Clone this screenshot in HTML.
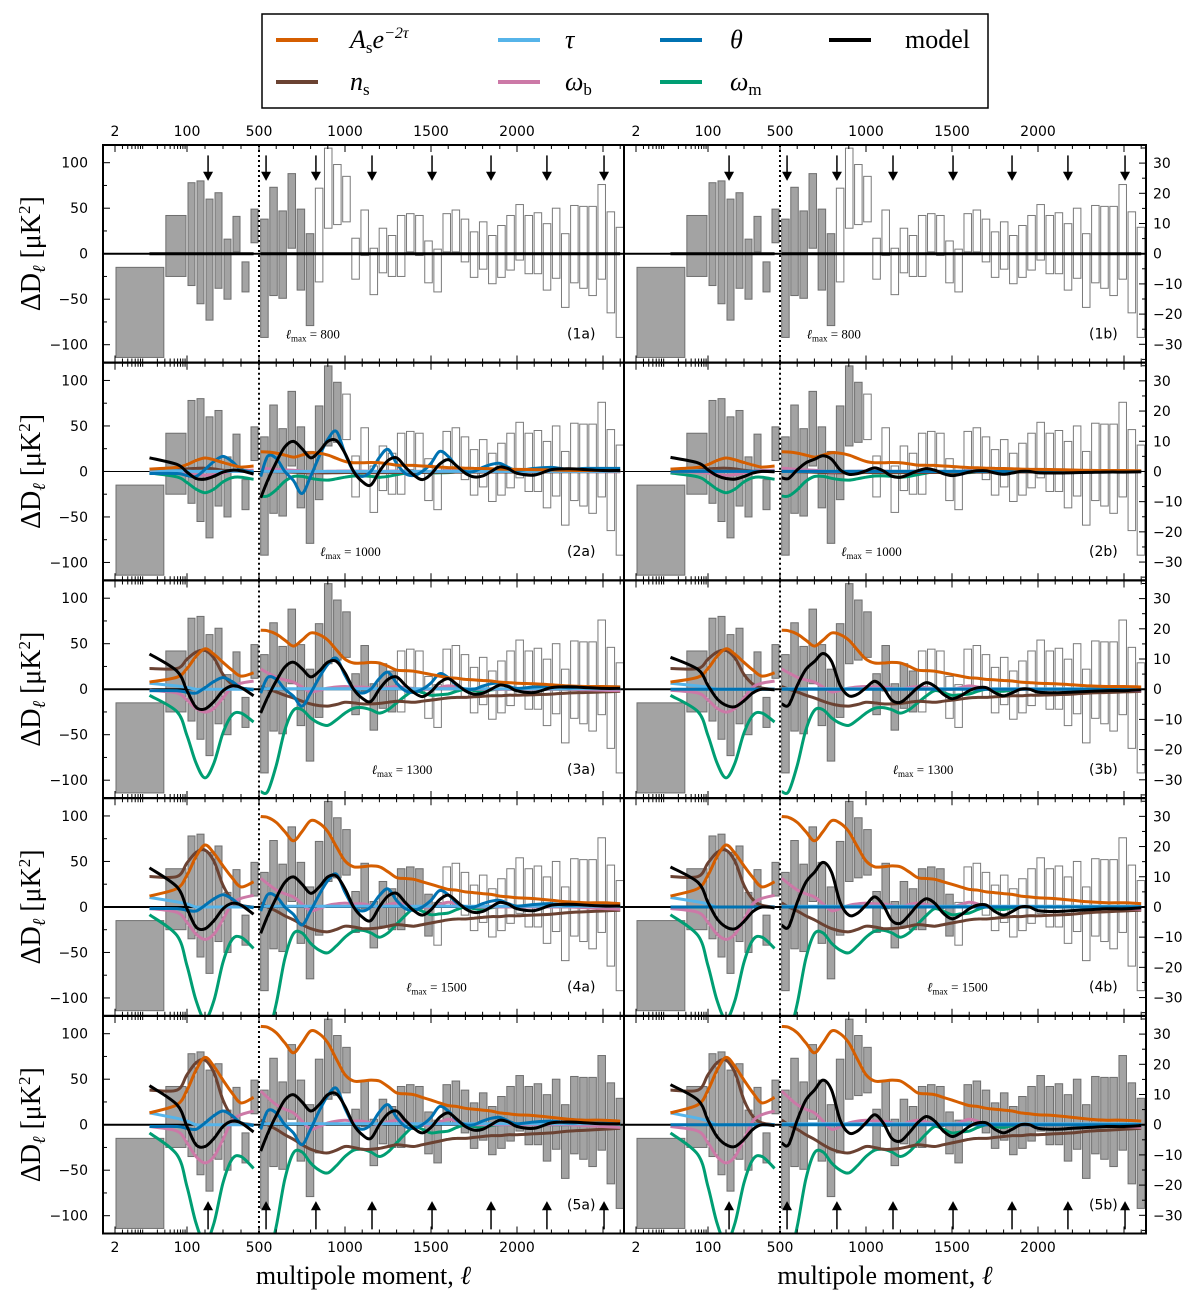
<!DOCTYPE html>
<html><head><meta charset="utf-8">
<style>
html,body{margin:0;padding:0;background:#fff;}
svg{display:block;}
.tk{font-family:"DejaVu Sans","Liberation Sans",sans-serif;font-size:14px;fill:#000;}
.ser{font-family:"Liberation Serif","DejaVu Serif",serif;fill:#000;}
</style></head>
<body>
<svg id="fig" width="1200" height="1303" viewBox="0 0 1200 1303" xmlns="http://www.w3.org/2000/svg">
  <g>
    <rect x="262" y="14" width="726" height="94" fill="#fff" stroke="#000" stroke-width="1.5"/>
    <g><line x1="276" y1="40" x2="318" y2="40" stroke="#d55e00" stroke-width="4"/><text x="350" y="48" class="ser" font-size="26" font-style="italic">A<tspan font-style="normal" font-size="17" dy="5">s</tspan><tspan dy="-5">e</tspan><tspan font-size="16" dy="-10">−2τ</tspan></text></g>
    <g><line x1="498" y1="40" x2="540" y2="40" stroke="#56b4e9" stroke-width="4"/><text x="565" y="48" class="ser" font-size="26" font-style="italic">τ</text></g>
    <g><line x1="660" y1="40" x2="702" y2="40" stroke="#0072b2" stroke-width="4"/><text x="730" y="48" class="ser" font-size="26" font-style="italic">θ</text></g>
    <g><line x1="829" y1="40" x2="871" y2="40" stroke="#000" stroke-width="4"/><text x="905" y="48" class="ser" font-size="26">model</text></g>
    <g><line x1="276" y1="82" x2="318" y2="82" stroke="#6b4232" stroke-width="4"/><text x="350" y="90" class="ser" font-size="26" font-style="italic">n<tspan font-style="normal" font-size="17" dy="5">s</tspan></text></g>
    <g><line x1="498" y1="82" x2="540" y2="82" stroke="#cc79a7" stroke-width="4"/><text x="565" y="90" class="ser" font-size="26" font-style="italic">ω<tspan font-style="normal" font-size="17" dy="5">b</tspan></text></g>
    <g><line x1="660" y1="82" x2="702" y2="82" stroke="#009e73" stroke-width="4"/><text x="730" y="90" class="ser" font-size="26" font-style="italic">ω<tspan font-style="normal" font-size="17" dy="5">m</tspan></text></g>
  </g>
</svg>
<script>
// ---- data ----
const lowBinLo = [2,30,100,150,200,250,300,350,400,450];
const lowBinHi = [30,100,150,200,250,300,350,400,450,500];
const lowBarTop = [-15,42,78,80,60,67,16,41,-9,49];
const lowBarBot = [-114,-25,-35,-55,-73,-38,-50,2,-42,12];
const highBinLo = [505,558,611,664,717,770,823,876,929,982,1035,1088,1141,1194,1247,1300,1353,1406,1459,1512,1565,1618,1671,1724,1777,1830,1883,1936,1989,2042,2095,2148,2201,2254,2307,2360,2413,2466,2519,2572];
const highBarTop = [38,73,47,88,49,22,72,116,98,85,17,48,6,28,20,42,44,42,14,5,44,48,38,24,35,20,31,42,54,42,45,33,50,22,53,52,52,76,46,29];
const highBarBot = [-92,-46,-49,6,-40,-79,-31,28,32,35,-28,-2,-45,-21,-25,-25,2,-2,-32,-42,2,2,-9,-26,-17,-33,-26,-18,-7,-22,-22,-40,-27,-59,-32,-38,-46,-28,-65,-92];
const lmaxByRow = [800,1000,1300,1500,99999];
const lmaxLabels = ["800","1000","1300","1500",""];
const arrowEll = [217,541,831,1157,1506,1849,2174,2506];

const lowKnots = [13,58,100,150,200,250,300,350,400,470];
const highKnots = [510,550,600,650,700,750,800,850,900,950,1000,1050,1100,1150,1200,1250,1300,1350,1400,1450,1500,1550,1600,1650,1700,1750,1800,1850,1900,1950,2000,2100,2200,2300,2400,2500,2600];

const asLow = [13,22,38,60,74,64,49,35,24,30];
const nsLow = [38,38,55,68,71,57,27,9,2,0];
const tauLow = [13,7,4,0,0,0,0,0,0,0];
const thetaLow = [-2,-2,-4,-5,2,10,15,10,2,-1];
const wbLow = [-2,-7,-20,-35,-42,-35,-16,4,11,15];
const wmLow = [-9,-33,-68,-108,-130,-108,-64,-38,-35,-48];
const modelLowA = [43,22,-2,-22,-24,-15,-2,4,2,-8];
const modelLowB = [44,27,5,-13,-22,-24,-16,-5,0,-1];

const asHigh = [108,107,101,90,79,90,103,100,90,72,55,48,48,49,48,42,35,34,33,30,27,24,21,20,18,17,16,15,13,12,11,10,8,6,5,5,4];
const nsHigh = [5,0,-5,-11,-16,-22,-27,-30,-31,-28,-24,-25,-27,-27,-26,-24,-22,-23,-24,-22,-20,-18,-16,-15,-15,-14,-13,-12,-12,-11,-11,-10,-9,-7,-6,-5,-4];
const tauHigh = [1,1,1,1,1,1,1,1,1,1,1,1,1,1,1,1,1,1,1,1,1,1,1,1,1,1,1,1,1,1,1,1,1,1,1,1,1];
const thetaHigh = [-5,15,13,0,-9,-22,-5,15,32,40,18,0,-5,0,14,22,8,-2,-4,0,8,20,15,5,0,0,4,7,8,4,1,3,4,2,3,3,3];
const wbHigh = [37,30,22,17,13,4,-5,-2,2,4,5,4,4,2,0,3,5,3,1,0,0,3,6,4,0,0,0,0,0,0,0,0,0,0,-1,-2,-3];
const wmHigh = [-150,-150,-112,-60,-31,-30,-42,-50,-53,-45,-35,-28,-27,-30,-35,-30,-20,-10,-2,-5,-9,-8,-7,-3,0,-2,-3,-1,0,0,0,0,0,0,0,0,0];
const modelHighA = [-29,-10,10,27,33,25,15,22,33,34,20,0,-11,-15,0,12,15,5,-4,-9,-3,8,13,6,-2,-6,-5,0,5,3,-2,-4,2,3,2,1,1];
const modelHighB = [-20,-22,5,27,38,49,38,5,-9,-7,2,11,2,-15,-18,-9,2,9,4,-7,-13,-9,-2,2,2,-5,-9,-5,0,0,-4,-5,-4,-3,-2,-2,-1];

// row scales for rows 2..5
const scaleAs = [0.2,0.6,0.92,1];
const scaleNs = [0.05,0.6,0.88,1];
const scaleTau = [0.1,0.5,0.8,1];
const scaleThetaA = [1.1,0.85,0.9,1];
const scaleThetaB = [0,0,0,0];
const scaleWb = [0.1,0.6,0.85,1];
const scaleWm = [0.18,0.75,0.95,1];
const scaleModelA = [1.0,0.9,1,1];
const scaleModelB = [0.35,0.8,1,1];
const scaleModelLowA = [0.35,0.9,1,1];

// ---- geometry ----
const NS = "http://www.w3.org/2000/svg";
const svg = document.getElementById('fig');
const rowTop0 = 145, rowStep = 217.75, rowH = 217.5;
const colX0 = [103,624], colW = [521,522], colOff = [0,521];
const zeroOff = 108.7, pxPerUnit = 0.91;
function xl(l){
  if(l<=100) return 115 + 72*Math.log(l/2)/Math.log(50);
  if(l<=500) return 187 + (l-100)*0.18;
  return 259 + (l-500)*0.172;
}
function X(col,l){ return xl(l)+colOff[col]; }
function Y(row,v){ return rowTop0+rowStep*row+zeroOff - v*pxPerUnit; }
function mk(tag, attrs, parent){
  const e=document.createElementNS(NS,tag);
  for(const k in attrs) e.setAttribute(k,attrs[k]);
  (parent||svg).appendChild(e); return e;
}
function crPath(xs, ys){
  let d = `M${xs[0].toFixed(1)},${ys[0].toFixed(1)}`;
  for(let i=0;i<xs.length-1;i++){
    const x0=xs[Math.max(i-1,0)], y0=ys[Math.max(i-1,0)];
    const x1=xs[i], y1=ys[i], x2=xs[i+1], y2=ys[i+1];
    const x3=xs[Math.min(i+2,xs.length-1)], y3=ys[Math.min(i+2,xs.length-1)];
    const c1x=x1+(x2-x0)/6, c1y=y1+(y2-y0)/6, c2x=x2-(x3-x1)/6, c2y=y2-(y3-y1)/6;
    d += ` C${c1x.toFixed(1)},${c1y.toFixed(1)} ${c2x.toFixed(1)},${c2y.toFixed(1)} ${x2.toFixed(1)},${y2.toFixed(1)}`;
  }
  return d;
}
const defs = mk('defs',{});
const COLORS = {as:'#d55e00', ns:'#6b4232', tau:'#56b4e9', theta:'#0072b2', wb:'#cc79a7', wm:'#009e73', model:'#000'};

for(let row=0; row<5; row++){
  for(let col=0; col<2; col++){
    const px=colX0[col], py=rowTop0+rowStep*row;
    const cid=`clip-${row}-${col}`;
    const cp=mk('clipPath',{id:cid},defs);
    mk('rect',{x:px,y:py,width:colW[col],height:rowH},cp);
    const g=mk('g',{'clip-path':`url(#${cid})`});
    
    
    const lmax=lmaxByRow[row];
    for(let i=0;i<lowBinLo.length;i++){
      const x1=X(col,lowBinLo[i])+1, x2=X(col,lowBinHi[i])-1;
      const r=mk('rect',{x:x1,y:Y(row,lowBarTop[i]),width:Math.max(1,x2-x1),height:Y(row,lowBarBot[i])-Y(row,lowBarTop[i]),fill:'#a3a3a3',stroke:'#6e6e6e','stroke-width':1},g);
      
      
    }
    for(let i=0;i<highBinLo.length;i++){
      const x1=X(col,highBinLo[i])+0.8, x2=X(col,highBinLo[i]+53)-0.8;
      const filled = (highBinLo[i]+26) < lmax;
      const r=mk('rect',{x:x1,y:Y(row,highBarTop[i]),width:x2-x1,height:Y(row,highBarBot[i])-Y(row,highBarTop[i]),fill:filled?'#a3a3a3':'#fff',stroke:filled?'#6e6e6e':'#7a7a7a','stroke-width':1},g);
      
      
    }
    mk('line',{x1:px,x2:px+colW[col],y1:Y(row,0),y2:Y(row,0),stroke:'#000','stroke-width':row==1?1:2},g);
    mk('line',{x1:X(col,500),x2:X(col,500),y1:py,y2:py+rowH,stroke:'#000','stroke-width':2,'stroke-dasharray':'2,3'},g);
    if(row===0){
      const p1=mk('path',{d:`M${X(col,13)},${Y(row,0)} L${X(col,470)},${Y(row,0)} M${X(col,510)},${Y(row,0)} L${X(col,2600)},${Y(row,0)}`,stroke:'#000','stroke-width':3,fill:'none'},g);
      
      
    } else {
      const k=row-1;
      const series=[
        ['wm',wmLow,wmHigh,scaleWm[k],scaleWm[k]],
        ['ns',nsLow,nsHigh,scaleNs[k],scaleNs[k]],
        ['wb',wbLow,wbHigh,scaleWb[k],scaleWb[k]],
        ['tau',tauLow,tauHigh,scaleTau[k],scaleTau[k]],
        ['theta',thetaLow,thetaHigh,(col?scaleThetaB:scaleThetaA)[k],(col?scaleThetaB:scaleThetaA)[k]],
        ['as',asLow,asHigh,scaleAs[k],scaleAs[k]],
        ['model',col?modelLowB:modelLowA,col?modelHighB:modelHighA,(col?scaleModelB:scaleModelLowA)[k],(col?scaleModelB:scaleModelA)[k]]
      ];
      for(const [name,lo,hi,sl,sh] of series){
        const xs1=lowKnots.map(l=>X(col,l)), ys1=lo.map(v=>Y(row,v*sl));
        const xs2=highKnots.map(l=>X(col,l)), ys2=hi.map(v=>Y(row,v*sh));
        const p=mk('path',{d:crPath(xs1,ys1)+' '+crPath(xs2,ys2),stroke:COLORS[name],'stroke-width':3,fill:'none','stroke-linejoin':'round'},g);
        
        
      }
    }
    if(row===0 || row===4){
      for(const l of arrowEll){
        const ax=X(col,l);
        if(row===0){
          mk('line',{x1:ax,x2:ax,y1:Y(row,108),y2:Y(row,88),stroke:'#000','stroke-width':1.5},g);
          const a=mk('polygon',{points:`${ax-5},${Y(row,90)} ${ax+5},${Y(row,90)} ${ax},${Y(row,80)}`,fill:'#000'},g);
          
          
        } else {
          mk('line',{x1:ax,x2:ax,y1:Y(row,-115),y2:Y(row,-92),stroke:'#000','stroke-width':1.5},g);
          const a=mk('polygon',{points:`${ax-5},${Y(row,-94)} ${ax+5},${Y(row,-94)} ${ax},${Y(row,-84)}`,fill:'#000'},g);
          
          
        }
      }
    }
    const tg=mk('g',{stroke:'#000','stroke-width':1});
    const majors=[2,100,500,1000,1500,2000,2500];
    for(const l of majors){ const x=X(col,l); mk('line',{x1:x,x2:x,y1:py,y2:py+7},tg); mk('line',{x1:x,x2:x,y1:py+rowH,y2:py+rowH-7},tg); }
    const minors=[3,4,5,6,7,8,9,20,30,40,50,60,70,80,90,200,300,400];
    for(let l=600;l<=2600;l+=100) if(l%500) minors.push(l);
    for(const l of minors){ const x=X(col,l); mk('line',{x1:x,x2:x,y1:py,y2:py+4},tg); mk('line',{x1:x,x2:x,y1:py+rowH,y2:py+rowH-4},tg); }
    if(col===0){
      for(let v=-100; v<=100; v+=25){ const y=Y(row,v); mk('line',{x1:px,x2:px+(v%50?4:7),y1:y,y2:y},tg); }
    } else {
      for(let v=-35; v<=35; v+=5){ const y=Y(row,0)-v*3.02; if(y<py||y>py+rowH) continue; mk('line',{x1:px+colW[col],x2:px+colW[col]-(v%10?4:7),y1:y,y2:y},tg); }
    }
    if(lmaxLabels[row]){
      const t=mk('text',{x:X(col,lmax)-25,y:Y(row,-93),class:'ser','font-size':13});
      t.innerHTML=`<tspan font-style="italic">ℓ</tspan><tspan font-size="9" dy="3">max</tspan><tspan dy="-3"> = ${lmaxLabels[row]}</tspan>`;
      
      
    }
    const tag=mk('text',{x:px+colW[col]-57,y:Y(row,-93),class:'tk','font-size':14});
    tag.textContent=`(${row+1}${col?'b':'a'})`;
    
    
  }
  for(const v of [100,50,0,-50,-100]){
    const t=mk('text',{x:88,y:Y(row,v)+5,class:'tk','text-anchor':'end'});
    t.textContent=v<0?'−'+(-v):String(v);
    
    
  }
  for(const v of [30,20,10,0,-10,-20,-30]){
    const t=mk('text',{x:1153,y:Y(row,0)-v*3.02+5,class:'tk'});
    t.textContent=v<0?'−'+(-v):String(v);
    
    
  }
  const yl=mk('text',{x:0,y:0,class:'ser','font-size':28,'text-anchor':'middle',transform:`translate(40,${Y(row,0)}) rotate(-90)`});
  yl.innerHTML='ΔD<tspan font-style="italic" font-size="18" dy="5">ℓ</tspan><tspan dy="-5"> [μK</tspan><tspan font-size="17" dy="-10">2</tspan><tspan dy="10">]</tspan>';
  
  
}
for(let row=0; row<5; row++){
  const py=rowTop0+rowStep*row;
  mk('rect',{x:103,y:py,width:1043,height:rowH,fill:'none',stroke:'#000','stroke-width':2});
}
mk('line',{x1:624,x2:624,y1:rowTop0,y2:rowTop0+rowStep*4+rowH,stroke:'#000','stroke-width':2});
const xTickVals=[2,100,500,1000,1500,2000];
for(let col=0; col<2; col++){
  for(const l of xTickVals){
    const t1=mk('text',{x:X(col,l),y:136,class:'tk','text-anchor':'middle'});
    t1.textContent=String(l);
    
    
    const t2=mk('text',{x:X(col,l),y:1252,class:'tk','text-anchor':'middle'});
    t2.textContent=String(l);
    
    
  }
  const xt=mk('text',{x:colX0[col]+colW[col]/2,y:1284,class:'ser','font-size':26,'text-anchor':'middle'});
  xt.innerHTML='multipole moment, <tspan font-style="italic">ℓ</tspan>';
  
  
}
</script>
</body></html>
